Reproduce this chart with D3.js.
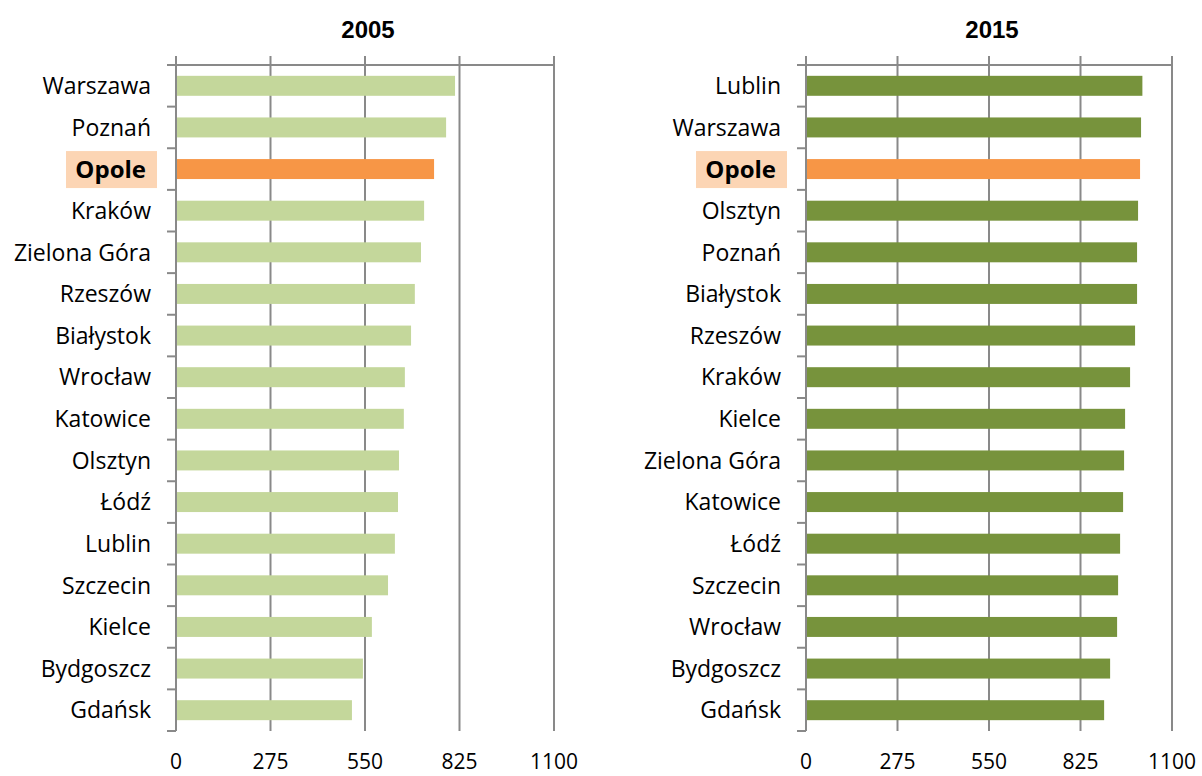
<!DOCTYPE html>
<html>
<head>
<meta charset="utf-8">
<script src="https://cdn.jsdelivr.net/npm/d3@7"></script>
<style>
  body { margin: 0; background: #fff; }
  text { font-family: "Open Sans", Lato, sans-serif; }
</style>
</head>
<body>
<svg id="svg1" width="1202" height="776"></svg>
<script>
// data
var cities2005 = ["Warszawa", "Poznań", "Opole", "Kraków", "Zielona Góra", "Rzeszów", "Białystok", "Wrocław",
                  "Katowice", "Olsztyn", "Łódź", "Lublin", "Szczecin", "Kielce", "Bydgoszcz", "Gdańsk"];
var values2005 = [812, 786, 751, 722, 713, 695, 684, 666, 663, 649, 646, 637, 617, 570, 544, 512];

var cities2015 = ["Lublin", "Warszawa", "Opole", "Olsztyn", "Poznań", "Białystok", "Rzeszów", "Kraków",
                  "Kielce", "Zielona Góra", "Katowice", "Łódź", "Szczecin", "Wrocław", "Bydgoszcz", "Gdańsk"];
var values2015 = [1011, 1007, 1004, 998, 995, 995, 989, 974, 959, 956, 953, 944, 938, 935, 914, 896];

var xTicks = [0, 275, 550, 825, 1100];
var highlight = "Opole";

var svg = d3.select("#svg1");
var plotTop = 65, plotBottom = 731;
var gridColor = "#898989";

function panel(title, cities, values, x0, x1, barColor) {
  var x = d3.scaleLinear().domain([0, 1100]).range([x0, x1]);
  var y = d3.scaleBand().domain(cities).range([plotTop, plotBottom])
      .paddingInner(0.52).paddingOuter(0.26);
  var g = svg.append("g");

  // title
  g.append("text")
      .attr("x", (x0 + x1) / 2 + 3)
      .attr("y", 38)
      .attr("text-anchor", "middle")
      .style("font-family", "'Liberation Sans', Arial, sans-serif")
      .style("font-weight", "bold")
      .style("font-size", "24px")
      .text(title);

  // vertical grid lines (and axis at 0)
  g.selectAll(".grid").data(xTicks).enter().append("line")
      .attr("x1", function(d) { return x(d); })
      .attr("x2", function(d) { return x(d); })
      .attr("y1", plotTop - 9)
      .attr("y2", plotBottom)
      .attr("stroke", gridColor)
      .attr("stroke-width", 2);

  // top line
  g.append("line")
      .attr("x1", x0 - 9).attr("x2", x1)
      .attr("y1", plotTop).attr("y2", plotTop)
      .attr("stroke", gridColor).attr("stroke-width", 2);

  // category tick marks between bands
  var step = y.step();
  var bounds = d3.range(cities.length + 1).map(function(i) { return plotTop + i * step; });
  g.selectAll(".ctick").data(bounds).enter().append("line")
      .attr("x1", x0 - 9).attr("x2", x0)
      .attr("y1", function(d) { return d; })
      .attr("y2", function(d) { return d; })
      .attr("stroke", gridColor).attr("stroke-width", 2);

  // bars
  g.selectAll(".bar").data(cities).enter().append("rect")
      .attr("x", x(0) + 1)
      .attr("y", function(d) { return y(d); })
      .attr("width", function(d, i) { return x(values[i]) - x(0) - 1; })
      .attr("height", y.bandwidth())
      .attr("fill", function(d) { return d == highlight ? "#F79646" : barColor; });

  // highlight label background
  g.append("rect")
      .attr("x", x0 - 110)
      .attr("y", y(highlight) + y.bandwidth() / 2 - 18)
      .attr("width", 91)
      .attr("height", 37)
      .attr("fill", "#FCD5B4");

  // category labels
  g.selectAll(".lab").data(cities).enter().append("text")
      .attr("x", function(d) { return d == highlight ? x0 - 30 : x0 - 25; })
      .attr("y", function(d) { return y(d) + y.bandwidth() / 2; })
      .attr("dy", "0.36em")
      .attr("text-anchor", "end")
      .style("font-size", function(d) { return d == highlight ? "24px" : "23px"; })
      .style("font-weight", function(d) { return d == highlight ? "bold" : "normal"; })
      .attr("fill", "#000")
      .text(function(d) { return d; });

  // value tick labels at the bottom
  g.selectAll(".xlab").data(xTicks).enter().append("text")
      .attr("x", function(d) { return x(d); })
      .attr("y", 769)
      .attr("text-anchor", "middle")
      .style("font-size", "21px")
      .attr("fill", "#000")
      .text(function(d) { return d; });
}

panel("2005", cities2005, values2005, 176, 554, "#C4D79B");
panel("2015", cities2015, values2015, 806, 1172, "#77933C");
</script>
</body>
</html>
